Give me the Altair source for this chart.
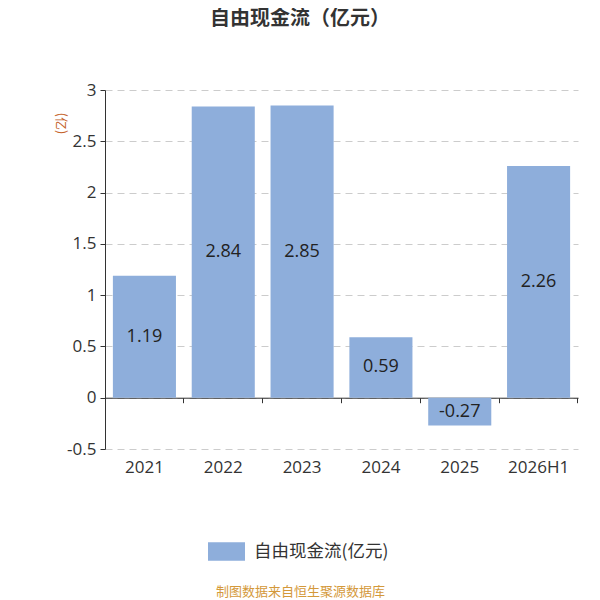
import altair as alt
import pandas as pd

# ---- data ----
years = ["2021", "2022", "2023", "2024", "2025", "2026H1"]
values = [1.19, 2.84, 2.85, 0.59, -0.27, 2.26]
series_name = "自由现金流(亿元)"
title_text = "自由现金流（亿元）"
unit_text = "(亿)"
source_text = "制图数据来自恒生聚源数据库"
y_ticks = [-0.5, 0, 0.5, 1, 1.5, 2, 2.5, 3]

df = pd.DataFrame({
    "year": years,
    "value": values,
    "label": [f"{v:.2f}" for v in values],
    "series": [series_name] * len(years),
})

FONT = "Open Sans, Noto Sans CJK SC, sans-serif"
CJK = "Noto Sans CJK SC, sans-serif"
BAR = "#8eaedb"
W, H = 473, 359
zero_offset = -H * 0.5 / 3.5

xscale = alt.Scale(paddingInner=0.2, paddingOuter=0.1)
yscale = alt.Scale(domain=[-0.5, 3], nice=False, zero=False)

yaxis = alt.Axis(
    values=y_ticks, labelExpr="datum.value + ''",
    title=unit_text, titleAngle=90, titleX=-45, titleY=33,
    titleAlign="center", titleBaseline="middle", titleFontSize=13,
    titleFontWeight="normal", titleColor="#c4622a", titleFont=CJK,
    domain=True, domainColor="#333", ticks=True, tickColor="#333", tickSize=5,
    labelFontSize=17, labelColor="#333", labelPadding=4, labelFont=FONT,
    grid=True, gridColor="#cccccc", gridDash=[7, 5],
)

bars = alt.Chart(df).mark_bar().encode(
    x=alt.X("year:N", sort=years, scale=xscale, axis=alt.Axis(
        orient="bottom", domain=False, ticks=False, grid=False, labelAngle=0,
        labelFontSize=17, labelColor="#333", labelPadding=10, labelFont=FONT,
        title=source_text, titleX=195, titleY=142, titleAlign="center",
        titleBaseline="middle", titleFontSize=13, titleFontWeight="normal",
        titleColor="#d4993a", titleFont=CJK)),
    y=alt.Y("value:Q", scale=yscale, axis=yaxis),
    color=alt.Color("series:N", scale=alt.Scale(range=[BAR]), legend=alt.Legend(
        orient="none", legendX=103, legendY=443, title=None, padding=0,
        symbolType="M-1,-0.5H1V0.5H-1Z", symbolSize=1369, symbolStrokeWidth=0,
        symbolOpacity=1, labelFontSize=17.5, labelColor="#333", labelOffset=9,
        labelFont=CJK)),
)

text = alt.Chart(df).transform_calculate(mid="datum.value / 2").mark_text(
    fontSize=18, color="#222", font=FONT
).encode(
    x=alt.X("year:N", sort=years, scale=xscale, axis=alt.Axis(
        orient="bottom", offset=zero_offset, labels=False, domain=True,
        domainColor="#333", ticks=True, tickColor="#333", tickSize=5,
        bandPosition=1.125, grid=False, title=None)),
    y=alt.Y("mid:Q", scale=yscale, axis=yaxis),
    text="label:N",
)

chart = alt.layer(bars, text).resolve_axis(x="independent").properties(
    width=W, height=H,
    padding={"left": 97, "top": 82, "right": 14, "bottom": 155},
    autosize=alt.AutoSizeParams(type="none"),
    title=alt.TitleParams(text=title_text, fontSize=20, fontWeight="bold",
                          color="#333", anchor="middle", frame="group",
                          dx=-41.5, offset=52, baseline="top", font=CJK),
).configure_view(stroke=None)

chart.save("out.html", embed_options={"renderer": "svg", "actions": False})
